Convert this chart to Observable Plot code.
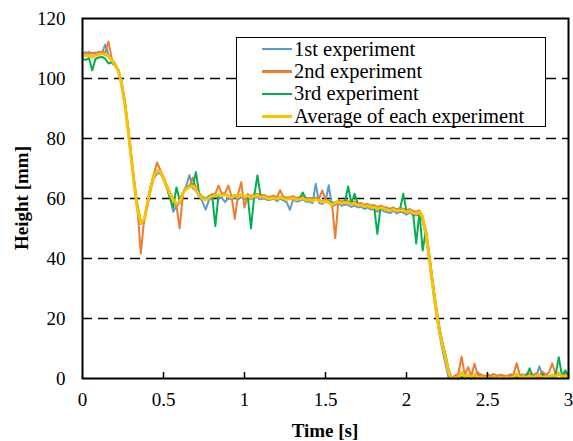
<!DOCTYPE html>
<html>
<head>
<meta charset="utf-8">
<script src="https://cdn.jsdelivr.net/npm/d3@7"></script>
<script src="https://cdn.jsdelivr.net/npm/@observablehq/plot@0.6"></script>
<style>
  html, body { margin: 0; padding: 0; background: #fff; }
  #wrap { position: relative; width: 573px; height: 441px; font-family: "Liberation Serif", "Times New Roman", serif; color: #000; }
  #wrap svg { position: absolute; left: 0; top: 0; }
  .title { position: absolute; font-weight: bold; font-size: 19px; white-space: nowrap; }
  #legend { position: absolute; left: 236px; top: 37px; width: 310px; height: 90px; box-sizing: border-box; border: 1px solid #000; background: #fff; font-size: 20.5px; padding-top: 0px; }
  .row { display: flex; align-items: center; height: 22.4px; }
  .swatch { width: 30px; height: 2.5px; margin-left: 25px; margin-right: 2px; }
</style>
</head>
<body>
<div id="wrap"></div>
<script>
// ---- data ----
const seriesNames = ["1st experiment", "2nd experiment", "3rd experiment", "Average of each experiment"];
const seriesColors = ["#5B9BD5", "#ED7D31", "#00B050", "#FFC000"];
const xTicks = [0, 0.5, 1, 1.5, 2, 2.5, 3];
const yTicks = [0, 20, 40, 60, 80, 100, 120];
const gridValues = [20, 40, 60, 80, 100];
// sample times: 0.00 .. 3.00 s every 0.02 s
const time = d3.range(151).map(i => +(i * 0.02).toFixed(2));

const exp1 = [
108.3,108.8,108.2,108.6,108.0,108.9,108.5,111.3,107.8,106.0,
105.2,102.5,98.0,91.5,83.0,73.5,64.0,56.0,51.5,53.0,
57.5,62.5,66.8,68.2,68.6,66.5,63.5,60.5,55.6,57.5,
58.5,62.0,64.0,67.8,63.5,62.5,60.8,59.0,56.3,59.4,
60.2,60.6,60.0,60.3,58.8,60.1,59.8,60.4,59.6,60.5,
59.9,60.7,59.8,60.2,60.5,59.7,60.2,59.5,59.6,60.0,
59.1,59.9,59.4,58.8,56.2,59.6,59.0,59.2,59.7,58.9,
59.0,58.5,64.9,58.6,58.2,59.0,64.4,57.4,57.9,58.3,
57.6,58.0,57.8,57.2,57.7,57.0,57.3,56.5,57.0,56.3,
56.5,55.6,56.4,55.8,55.4,55.2,55.9,55.0,55.6,55.3,
54.6,55.4,54.5,54.3,54.8,52.5,47.5,39.5,31.0,23.0,
16.0,10.0,5.0,0.2,0.0,0.4,0.6,0.3,0.8,0.5,
1.0,0.4,2.1,0.6,0.3,0.8,0.4,0.6,0.3,0.9,
0.5,0.4,1.2,0.6,0.5,0.9,0.4,1.6,0.7,1.0,
0.6,4.1,0.8,1.2,0.5,1.0,0.6,1.4,0.7,2.7,
0.8];

const exp2 = [
108.6,108.0,108.9,108.3,108.7,108.4,109.0,108.6,112.3,106.8,
104.5,103.2,99.0,92.5,84.0,74.5,65.0,56.0,41.7,52.8,
58.5,64.0,68.0,72.0,69.5,67.2,64.5,62.0,60.0,57.5,
50.0,61.5,63.8,64.0,67.0,63.5,61.8,60.5,59.8,60.8,
61.4,61.6,64.3,61.5,61.9,64.3,60.8,53.2,61.3,65.4,
57.0,61.5,60.8,61.4,61.5,61.0,61.2,60.7,60.5,61.0,
60.4,62.8,60.6,60.3,60.5,60.8,60.2,60.4,60.7,60.1,
60.2,59.8,60.3,59.9,62.7,59.7,59.3,58.4,46.8,59.5,
59.0,59.3,59.1,58.7,59.0,58.4,58.5,57.9,58.2,57.7,
57.8,57.1,57.6,57.2,56.9,56.6,57.0,56.4,56.8,56.6,
56.1,56.5,55.8,55.6,56.0,54.0,49.0,41.0,32.5,24.5,
17.5,12.0,7.5,2.5,0.2,1.0,1.5,7.3,1.2,3.8,
0.9,4.9,1.0,1.4,0.8,1.2,1.0,1.5,0.9,1.3,
1.0,0.8,1.4,1.2,5.1,1.0,1.4,0.9,1.6,1.1,
1.7,1.0,2.3,1.2,2.0,5.1,1.3,1.8,1.1,1.5,
1.0];

const exp3 = [
106.5,106.2,106.8,102.7,106.5,107.0,107.2,106.6,105.0,105.4,
104.2,103.0,99.2,93.0,84.5,75.0,65.5,57.5,52.5,52.0,
57.8,63.8,67.8,69.4,68.8,66.5,63.8,60.0,57.0,63.7,
59.5,62.0,63.5,64.2,63.8,68.8,61.5,60.4,60.0,60.6,
61.1,50.8,61.3,61.0,61.4,60.9,60.6,61.2,60.8,61.3,
60.7,61.0,50.0,60.9,67.7,60.6,60.8,60.3,60.2,60.5,
60.0,60.6,60.2,59.9,60.1,60.4,59.8,60.0,62.0,59.7,
59.8,59.4,59.9,59.5,59.0,59.3,58.9,58.5,58.8,59.1,
58.6,58.9,64.0,58.4,61.6,58.0,58.1,57.5,57.8,57.3,
57.4,48.2,57.2,56.8,56.5,56.2,56.6,56.0,56.4,61.6,
55.7,56.1,55.4,45.0,55.5,42.7,49.5,41.5,33.0,25.0,
18.0,12.5,8.0,3.0,0.0,0.2,0.0,0.4,0.1,0.3,
0.0,0.5,0.2,0.1,0.4,0.0,0.3,0.1,0.5,0.2,
0.0,0.3,0.6,0.2,0.4,0.9,0.3,0.6,3.4,0.5,
0.2,0.4,1.5,0.3,0.6,0.4,1.0,7.1,0.8,2.6,
1.2];

const average = [
107.5,107.8,107.6,107.2,107.6,108.0,108.2,108.0,107.4,106.2,
104.6,102.8,98.5,92.0,83.5,74.0,64.5,56.5,52.0,52.5,
58.0,63.5,67.5,69.2,69.0,66.8,64.0,61.5,59.5,58.2,
59.0,61.8,63.2,63.8,64.2,63.0,61.2,60.0,59.6,60.2,
60.8,61.0,61.2,61.0,61.3,60.8,60.4,61.0,60.7,61.2,
60.6,60.9,60.3,60.8,61.0,60.4,60.6,60.1,60.0,60.3,
59.8,60.4,60.0,59.7,59.9,60.2,59.6,59.8,60.1,59.5,
59.6,59.2,59.7,59.3,58.8,59.1,58.7,57.8,58.6,58.9,
58.4,58.7,58.5,58.1,58.4,57.8,57.9,57.3,57.6,57.1,
57.2,56.5,57.0,56.6,56.3,56.0,56.4,55.8,56.2,56.0,
55.5,55.9,55.2,55.0,55.4,53.5,48.5,40.5,32.0,24.0,
17.0,11.5,7.0,2.0,0.0,0.3,0.2,2.0,0.6,1.2,
0.4,1.3,0.3,0.5,0.2,0.4,0.1,0.3,0.2,0.4,
0.1,0.3,0.2,0.5,1.5,0.4,0.6,0.3,0.9,0.4,
0.7,1.0,0.4,0.6,0.5,1.2,0.5,1.8,0.6,0.9,
0.5];

// ---- build tables ----
const allSeries = [exp1, exp2, exp3, average];
const tables = allSeries.map(vals => time.map((t, i) => ({t, v: vals[i]})));

const lineMarks = tables.map((tbl, k) =>
  Plot.line(tbl, {x: "t", y: "v", stroke: seriesColors[k], strokeWidth: k === 3 ? 3 : 2, strokeLinejoin: "round"})
);

const chart = Plot.plot({
  width: 573,
  height: 441,
  marginLeft: 82,
  marginRight: 5,
  marginTop: 18,
  marginBottom: 63,
  style: {fontFamily: "'Liberation Serif', 'Times New Roman', serif", fontSize: "19px", color: "#000", background: "#fff"},
  x: {domain: [0, 3], label: null},
  y: {domain: [0, 120], label: null},
  marks: [
    Plot.ruleY(gridValues, {stroke: "#000", strokeWidth: 1.5, strokeDasharray: "10,6"}),
    ...lineMarks,
    Plot.ruleX(xTicks.slice(1, -1), {y1: 0, y2: 2, stroke: "#000", strokeWidth: 1.5}),
    Plot.frame({stroke: "#000", strokeWidth: 2}),
    Plot.axisX(xTicks, {label: null, tickSize: 0, tickPadding: 14, tickFormat: d => String(d), fill: "#000"}),
    Plot.axisY(yTicks, {label: null, tickSize: 0, tickPadding: 17, tickFormat: d => String(d), fill: "#000"})
  ]
});

const wrap = document.getElementById("wrap");
wrap.appendChild(chart);

// axis titles
const yt = document.createElement("div");
yt.className = "title";
yt.textContent = "Height [mm]";
yt.style.left = "22px"; yt.style.top = "198px";
yt.style.transform = "translate(-50%, -50%) rotate(-90deg)";
wrap.appendChild(yt);

const xt = document.createElement("div");
xt.className = "title";
xt.textContent = "Time [s]";
xt.style.left = "325px"; xt.style.top = "431px";
xt.style.transform = "translate(-50%, -50%)";
wrap.appendChild(xt);

// legend
const lg = document.createElement("div");
lg.id = "legend";
seriesNames.forEach((name, k) => {
  const row = document.createElement("div");
  row.className = "row";
  const sw = document.createElement("span");
  sw.className = "swatch";
  sw.style.background = seriesColors[k];
  const tx = document.createElement("span");
  tx.textContent = name;
  row.appendChild(sw); row.appendChild(tx);
  lg.appendChild(row);
});
wrap.appendChild(lg);
</script>
</body>
</html>
